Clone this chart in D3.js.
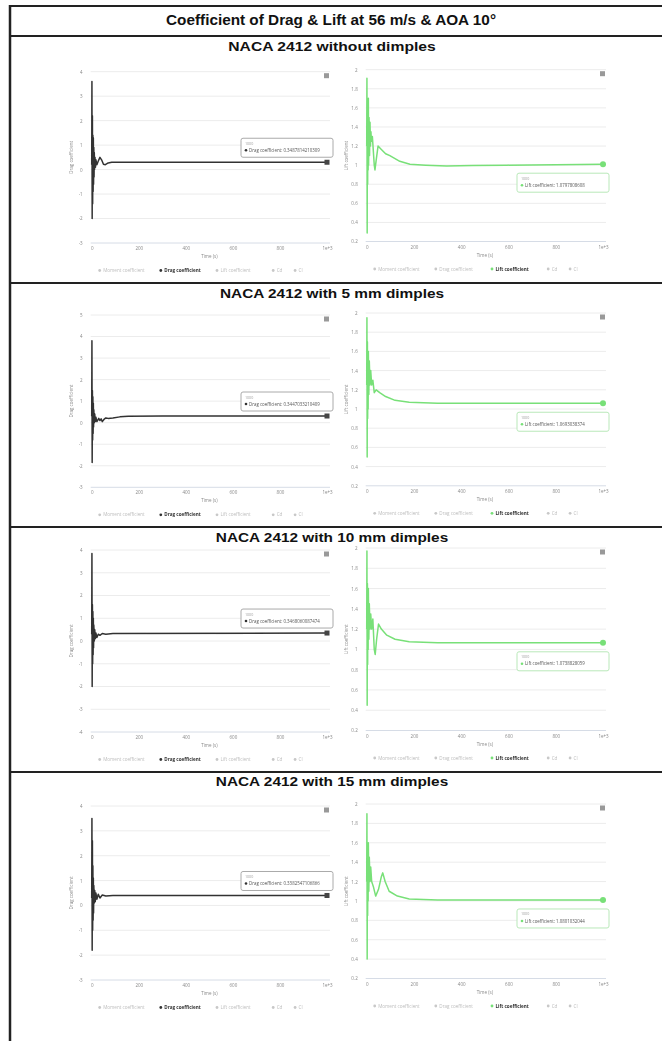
<!DOCTYPE html>
<html>
<head>
<meta charset="utf-8">
<script src="https://cdn.jsdelivr.net/npm/d3@7"></script>
<style>
  body { margin: 0; background: #fff; }
  svg { display: block; }
</style>
</head>
<body>
<svg id="drawing_region"></svg>
<script>
// ---- data ----
const mainTitle = "Coefficient of Drag & Lift at 56 m/s & AOA 10\u00b0";
const sectionTitles = [
  "NACA 2412 without dimples",
  "NACA 2412 with 5 mm dimples",
  "NACA 2412 with 10 mm dimples",
  "NACA 2412 with 15 mm dimples"
];
const xTicks = [0, 200, 400, 600, 800, 1000];
const xTickLabels = ["0", "200", "400", "600", "800", "1e+3"];
const legendItems = ["Moment coefficient", "Drag coefficient", "Lift coefficient", "Cd", "Cl"];

const dragTicks = [
  [4, 3, 2, 1, 0, -1, -2, -3],
  [5, 4, 3, 2, 1, 0, -1, -2, -3],
  [4, 3, 2, 1, 0, -1, -2, -3, -4],
  [4, 3, 2, 1, 0, -1, -2, -3]
];
const liftTicks = [
  [2, 1.8, 1.6, 1.4, 1.2, 1, 0.8, 0.6, 0.4, 0.2],
  [2, 1.8, 1.6, 1.4, 1.2, 1, 0.8, 0.6, 0.4, 0.2],
  [2, 1.8, 1.6, 1.4, 1.2, 1, 0.8, 0.6, 0.4, 0.2],
  [2, 1.8, 1.6, 1.4, 1.2, 1, 0.8, 0.6, 0.4, 0.2]
];

// [iteration, coefficient]
const dragNoDimples = [[0,0.2],[1,3.6],[2,-2.0],[3,2.2],[4,-1.4],[5,1.4],[6,-0.9],[7,1.3],[8,-0.6],[9,0.9],[10,-0.3],[11,0.7],[12,0.0],[14,0.5],[16,0.1],[18,0.4],[22,0.2],[28,0.35],[35,0.5],[42,0.4],[50,0.22],[58,0.2],[70,0.27],[85,0.3],[150,0.3],[400,0.3],[1000,0.3]];
const drag5mm = [[0,0.3],[1,3.8],[2,-1.85],[3,1.5],[4,-0.8],[5,1.2],[6,-0.5],[7,0.9],[8,-0.2],[9,0.6],[11,0.0],[13,0.4],[15,0.05],[18,0.25],[22,0.05],[26,0.12],[30,0.2],[35,0.1],[40,0.18],[45,0.05],[52,0.15],[60,0.22],[70,0.2],[90,0.22],[120,0.27],[155,0.3],[300,0.31],[1000,0.31]];
const drag10mm = [[0,0.3],[1,3.85],[2,-2.0],[3,1.6],[4,-1.0],[5,1.3],[6,-0.6],[7,1.0],[8,-0.3],[9,0.7],[11,0.0],[13,0.5],[15,0.1],[18,0.35],[22,0.15],[28,0.3],[35,0.25],[45,0.33],[60,0.3],[90,0.33],[1000,0.35]];
const drag15mm = [[0,0.3],[1,3.5],[2,-1.8],[3,2.6],[4,-1.0],[5,1.6],[6,-0.6],[7,1.1],[8,-0.3],[9,0.8],[11,0.1],[13,0.6],[15,0.15],[18,0.5],[22,0.25],[28,0.45],[35,0.3],[45,0.42],[60,0.38],[90,0.4],[1000,0.4]];

const liftNoDimples = [[0,1.2],[1,1.91],[2,0.29],[3,1.6],[4,0.8],[5,1.55],[6,0.95],[7,1.7],[8,1.0],[10,1.5],[12,1.1],[14,1.45],[16,1.2],[18,1.35],[20,1.25],[24,1.3],[28,1.15],[32,1.0],[35,0.95],[40,1.05],[48,1.2],[60,1.17],[80,1.12],[98,1.1],[140,1.04],[183,1.01],[250,1.0],[338,0.99],[450,0.995],[592,1.0],[800,1.005],[1000,1.01]];
const lift5mm = [[0,1.25],[1,1.95],[2,0.5],[3,1.7],[4,0.9],[5,1.5],[6,1.0],[7,1.6],[9,1.15],[11,1.5],[14,1.25],[17,1.4],[21,1.25],[26,1.3],[32,1.17],[40,1.2],[55,1.17],[80,1.13],[120,1.09],[180,1.07],[300,1.06],[1000,1.06]];
const lift10mm = [[0,1.2],[1,1.97],[2,0.45],[3,1.65],[4,0.85],[5,1.5],[6,1.0],[7,1.6],[9,1.1],[11,1.45],[14,1.2],[17,1.35],[21,1.2],[26,1.3],[32,1.0],[36,0.95],[42,1.1],[50,1.25],[62,1.2],[85,1.14],[120,1.1],[180,1.075],[300,1.065],[1000,1.065]];
const lift15mm = [[0,1.2],[1,1.9],[2,0.4],[3,1.6],[4,0.85],[5,1.5],[6,1.0],[7,1.6],[9,1.1],[11,1.45],[14,1.2],[17,1.35],[21,1.2],[28,1.15],[38,1.05],[50,1.12],[62,1.25],[68,1.29],[78,1.2],[95,1.1],[130,1.05],[180,1.02],[300,1.01],[1000,1.01]];

const dragSeries = [dragNoDimples, drag5mm, drag10mm, drag15mm];
const liftSeries = [liftNoDimples, lift5mm, lift10mm, lift15mm];
const dragReadouts = ["0.3487814210309", "0.3447033210409", "0.3468060087474", "0.3382547106866"];
const liftReadouts = ["1.0797808608", "1.0693038374", "1.0738828059", "1.0801032044"];

// ---- layout ----
const W = 662, H = 1041;
const ruleYs = [6, 36, 283, 527, 772];
const panels = [
  { titleY: 47,  top: 71.7, bottom: 243 },
  { titleY: 294, top: 315,  bottom: 487.3 },
  { titleY: 538, top: 550,  bottom: 732 },
  { titleY: 782, top: 806,  bottom: 980 }
];
const leftX = [91.7, 327];
const rightX = [366.7, 603];
const dragColor = "#333333";
const liftColor = "#78e078";

const svg = d3.select("#drawing_region").attr("width", W).attr("height", H);

const defs = svg.append("defs");
defs.append("filter").attr("id", "soft")
  .append("feGaussianBlur").attr("stdDeviation", 0.45);

// table frame
const frame = svg.append("g");
ruleYs.forEach(y => {
  frame.append("line").attr("x1", 9).attr("x2", W).attr("y1", y).attr("y2", y)
    .attr("stroke", "#222").attr("stroke-width", 2);
});
frame.append("line").attr("x1", 10).attr("x2", 10).attr("y1", 5).attr("y2", H)
  .attr("stroke", "#222").attr("stroke-width", 2.5);

svg.append("text").attr("x", 331).attr("y", 21.5)
  .attr("text-anchor", "middle").attr("dominant-baseline", "middle")
  .attr("font-family", "Liberation Sans, Arial, sans-serif").attr("font-weight", "bold")
  .attr("font-size", 14).attr("textLength", 330).attr("lengthAdjust", "spacingAndGlyphs")
  .attr("fill", "#111").text(mainTitle);

panels.forEach((p, i) => {
  svg.append("text").attr("x", 332).attr("y", p.titleY)
    .attr("text-anchor", "middle").attr("dominant-baseline", "middle")
    .attr("font-family", "Liberation Sans, Arial, sans-serif").attr("font-weight", "bold")
    .attr("font-size", 13.5).attr("textLength", sectionTitles[i].length * 8.3)
    .attr("lengthAdjust", "spacingAndGlyphs")
    .attr("fill", "#111").text(sectionTitles[i]);

  drawChart({
    range: leftX, top: p.top, bottom: p.bottom, ticks: dragTicks[i],
    data: dragSeries[i], color: dragColor, active: 1,
    yTitle: "Drag coefficient", readout: "Drag coefficient: " + dragReadouts[i], tipAbove: true
  });
  drawChart({
    range: rightX, top: p.top - 2, bottom: p.bottom - 1.5, ticks: liftTicks[i],
    data: liftSeries[i], color: liftColor, active: 2,
    yTitle: "Lift coefficient", readout: "Lift coefficient: " + liftReadouts[i], tipAbove: false
  });
});

function drawChart(cfg) {
  const g = svg.append("g").attr("filter", "url(#soft)");
  const [x0, x1] = cfg.range;

  const xscale = d3.scaleLinear().domain([0, 1000]).range([x0, x1]);
  const yscale = d3.scaleLinear()
    .domain([d3.min(cfg.ticks), d3.max(cfg.ticks)])
    .range([cfg.bottom, cfg.top]);

  // grid
  g.append("g").selectAll("line").data(cfg.ticks).join("line")
    .attr("x1", x0 - 1).attr("x2", x1 + 3)
    .attr("y1", d => yscale(d)).attr("y2", d => yscale(d))
    .attr("stroke", (d, k) => k === cfg.ticks.length - 1 ? "#d6dce6" : "#ececec")
    .attr("stroke-width", 1);

  const yaxis = d3.axisLeft(yscale).tickValues(cfg.ticks)
    .tickFormat(d => String(d)).tickSize(0).tickPadding(9);
  const ya = g.append("g").attr("transform", `translate(${x0},0)`).call(yaxis);
  ya.select(".domain").remove();
  ya.selectAll("text").attr("font-size", 4.5).attr("fill", "#888")
    .attr("font-family", "Open Sans, sans-serif");

  const xaxis = d3.axisBottom(xscale).tickValues(xTicks)
    .tickFormat((d, k) => xTickLabels[k]).tickSize(0).tickPadding(4);
  const xa = g.append("g").attr("transform", `translate(0,${cfg.bottom})`).call(xaxis);
  xa.select(".domain").remove();
  xa.selectAll("text").attr("font-size", 4.5).attr("fill", "#888")
    .attr("font-family", "Open Sans, sans-serif");

  g.append("text").attr("x", (x0 + x1) / 2).attr("y", cfg.bottom + 15)
    .attr("text-anchor", "middle").attr("font-size", 4.5).attr("fill", "#888")
    .attr("font-family", "Open Sans, sans-serif").text("Time (s)");

  g.append("text")
    .attr("transform", `translate(${x0 - 19},${(cfg.top + cfg.bottom) / 2}) rotate(-90)`)
    .attr("text-anchor", "middle").attr("font-size", 4.5).attr("fill", "#888")
    .attr("font-family", "Open Sans, sans-serif").text(cfg.yTitle);

  // legend
  const lg = g.append("g").attr("transform", `translate(${x0 + 8},${cfg.bottom + 29})`);
  let lx = 0;
  legendItems.forEach((name, k) => {
    const on = k === cfg.active;
    const col = on ? cfg.color : "#c8c8c8";
    lg.append("circle").attr("cx", lx).attr("cy", -1.5).attr("r", 1.4).attr("fill", col);
    lg.append("text").attr("x", lx + 3.5).attr("y", 0)
      .attr("font-size", 4.6).attr("font-family", "Open Sans, sans-serif")
      .attr("font-weight", on ? "bold" : "normal")
      .attr("fill", on ? "#333" : "#bdbdbd").text(name);
    lx += (name.length * 2.45) + 17;
  });

  // series
  const line = d3.line().x(d => xscale(d[0])).y(d => yscale(d[1]));
  g.append("path").datum(cfg.data).attr("d", line)
    .attr("fill", "none").attr("stroke", cfg.color).attr("stroke-width", 1.5)
    .attr("stroke-linejoin", "round");

  const last = cfg.data[cfg.data.length - 1];
  const lxp = xscale(last[0]), lyp = yscale(last[1]);
  if (cfg.active === 1) {
    g.append("rect").attr("x", lxp - 2.5).attr("y", lyp - 2.5).attr("width", 5).attr("height", 5)
      .attr("fill", "#444");
  } else {
    g.append("circle").attr("cx", lxp).attr("cy", lyp).attr("r", 3).attr("fill", cfg.color);
  }

  // menu icon
  g.append("rect").attr("x", x1 - 3).attr("y", cfg.top + 1.5).attr("width", 5).attr("height", 5)
    .attr("fill", "#999");

  // tooltip
  const tw = 92, th = 19;
  const tx = x1 + 6 - tw;
  const ty = cfg.tipAbove ? lyp - 5 - th : lyp + 9;
  const tip = g.append("g").attr("transform", `translate(${tx},${ty})`);
  tip.append("rect").attr("width", tw).attr("height", th).attr("rx", 2)
    .attr("fill", "#fff").attr("stroke", cfg.active === 1 ? "#aaa" : "#b9e8b9").attr("stroke-width", 1);
  tip.append("text").attr("x", 4).attr("y", 6.5).attr("font-size", 3.6).attr("fill", "#999")
    .attr("font-family", "Open Sans, sans-serif").text("1000");
  tip.append("circle").attr("cx", 5).attr("cy", 12).attr("r", 1.3).attr("fill", cfg.color);
  tip.append("text").attr("x", 8).attr("y", 13.6).attr("font-size", 4.4).attr("fill", "#555")
    .attr("font-family", "Open Sans, sans-serif").text(cfg.readout);
}
</script>
</body>
</html>
